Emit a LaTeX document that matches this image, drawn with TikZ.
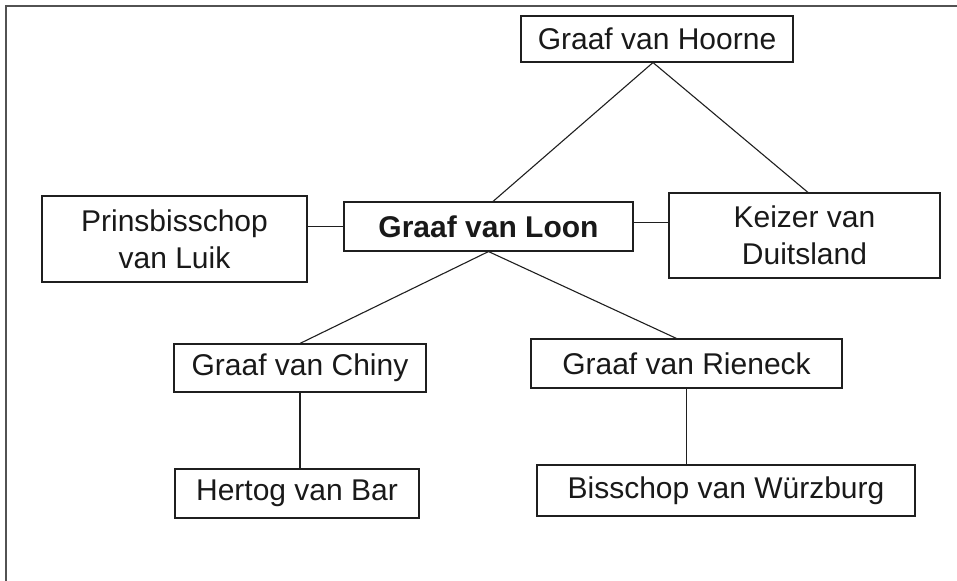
\documentclass[tikz,border=0pt]{standalone}
\usepackage{fontspec}
\setmainfont{Liberation Sans}
\begin{document}
\begin{tikzpicture}[x=1bp,y=-1bp,
  box/.style={draw=black!88, line width=1.1bp, rectangle, inner sep=0pt, align=center,
    font=\fontsize{30bp}{37bp}\selectfont, text=black!90},
  conn/.style={draw=black!88, line width=1.1bp},
  frameline/.style={draw=black!68, line width=2bp}]
\useasboundingbox (0,0) rectangle (957,581);
\draw[frameline] (6,581) -- (6,6) -- (957,6);
\node[box, minimum width=272bp, minimum height=46bp] (hoorne) at (657,39) {Graaf van Hoorne};
\node[box, minimum width=289bp, minimum height=49bp, font=\fontsize{30bp}{37bp}\selectfont\bfseries] (loon) at (488.5,226.5) {Graaf van Loon};
\node[box, minimum width=265bp, minimum height=86bp] (prins) at (174.5,239) {Prinsbisschop\\van Luik};
\node[box, minimum width=271bp, minimum height=85bp] (keizer) at (804.5,235.5) {Keizer van\\Duitsland};
\node[box, minimum width=252bp, minimum height=48bp] (chiny) at (300,368) {Graaf van Chiny};
\node[box, minimum width=311bp, minimum height=49bp] (rieneck) at (686.5,363.5) {Graaf van Rieneck};
\node[box, minimum width=244bp, minimum height=49bp] (hertog) at (297,493.5) {Hertog van Bar};
\node[box, minimum width=378bp, minimum height=51bp] (wurz) at (726,490.5) {Bisschop van Würzburg};
\draw[conn] ([xshift=4.5bp]loon.north) -- ([xshift=-4bp]hoorne.south) -- ([xshift=3.5bp]keizer.north);
\draw[conn] (loon.west) -- (loon.west -| prins.east);
\draw[conn] ([yshift=4bp]loon.east) -- ([yshift=4bp]loon.east -| keizer.west);
\draw[conn] (chiny.north) -- (loon.south) -- ([xshift=-10bp]rieneck.north);
\draw[conn] (chiny.south) -- (chiny.south |- hertog.north);
\draw[conn] (rieneck.south) -- (rieneck.south |- wurz.north);
\end{tikzpicture}
\end{document}
